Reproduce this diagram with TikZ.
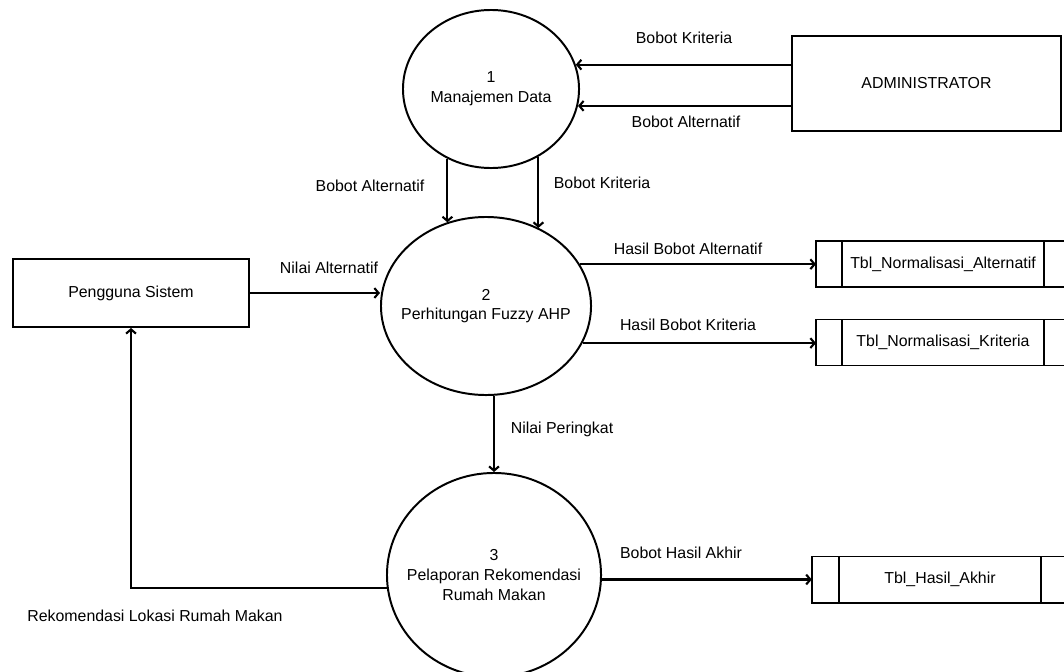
\documentclass[tikz,border=0pt]{standalone}
\usepackage{fontspec}
\setmainfont{Liberation Sans}
\usetikzlibrary{shapes.geometric}
\usetikzlibrary{positioning}
\usetikzlibrary{arrows}
\usetikzlibrary{arrows.meta}

\begin{document}
\begin{tikzpicture}[x=0.025cm, y=-0.025cm]
	\tikzset{
		every node/.style={font=\fontsize{11.3}{14}\selectfont},
		prosesnode/.style={ellipse, draw=black, line width=1.4pt, inner sep=0pt},
		entitasnode/.style={rectangle, draw=black, line width=1.4pt, text centered},
		tabelnode/.style={rectangle, draw=black, line width=1.4pt, outer sep=0pt, minimum width=5.05cm, minimum height=1.15cm, text centered},
		tabelsisi/.style={rectangle, draw=black, line width=1.4pt, outer sep=0pt, minimum height=1.15cm},
		aliran/.style={-{Straight Barb[length=3pt, width=7pt]}, line width=1.5pt},
	}
	\useasboundingbox (0,0) rectangle (1064,671);
	\clip (0,0) rectangle (1064,671);

	\node[prosesnode, minimum width=4.4cm, minimum height=3.95cm, label={[align=center]center:1\\Manajemen Data}] (p1) at (491,89) {};
	\node[prosesnode, minimum width=5.25cm, minimum height=4.45cm, label={[align=center]center:2\\Perhitungan Fuzzy AHP}] (p2) at (486,306) {};
	\node[prosesnode, minimum width=5.35cm, minimum height=5.1cm, label={[align=center]center:3\\Pelaporan Rekomendasi\\Rumah Makan}] (p3) at (494,575) {};

	\node[entitasnode, minimum width=6.725cm, minimum height=2.375cm] (admin) at (926.5,83.5) {ADMINISTRATOR};
	\node[entitasnode, minimum width=5.9cm, minimum height=1.7cm] (pengguna) at (131,293) {Pengguna Sistem};

	\node[tabelnode] (tblalt) at (943,264) {Tbl\_Normalisasi\_Alternatif};
	\node[tabelsisi, left=0pt of tblalt, minimum width=0.65cm] (tblaltkiri) {};
	\node[tabelsisi, right=0pt of tblalt, minimum width=1cm] (tblaltkanan) {};

	\node[tabelnode] (tblkrit) at (943,342.5) {Tbl\_Normalisasi\_Kriteria};
	\node[tabelsisi, left=0pt of tblkrit, minimum width=0.65cm] (tblkritkiri) {};
	\node[tabelsisi, right=0pt of tblkrit, minimum width=1cm] (tblkritkanan) {};

	\node[tabelnode] (tblakhir) at (940,579.5) {Tbl\_Hasil\_Akhir};
	\node[tabelsisi, left=0pt of tblakhir, minimum width=0.68cm] (tblakhirkiri) {};
	\node[tabelsisi, right=0pt of tblakhir, minimum width=1cm] (tblakhirkanan) {};

	\draw[aliran] (admin.west |- p1.16) -- (p1.16);
	\draw[aliran] (admin.west |- p1.349.5) -- (p1.349.5);
	\node (lblkrit1) at (684,38) {Bobot Kriteria};
	\node (lblalt1) at (686,122) {Bobot Alternatif};

	\draw[aliran] (p1.238) -- (p1.238 |- p2.115);
	\draw[aliran] (p1.305) -- (p1.305 |- p2.56);
	\node (lblalt2) at (370,186) {Bobot Alternatif};
	\node (lblkrit2) at (602,183) {Bobot Kriteria};

	\draw[aliran] (pengguna.east) -- (pengguna.east -| p2.west);
	\node (lblnilai) at (329,268) {Nilai Alternatif};

	\draw[aliran] (p2.24.5) -- (p2.24.5 -| tblaltkiri.west);
	\draw[aliran] (p2.339.5) -- (p2.339.5 -| tblkritkiri.west);
	\node (lblhasilalt) at (688,249) {Hasil Bobot Alternatif};
	\node (lblhasilkrit) at (688,325) {Hasil Bobot Kriteria};

	\draw[aliran] (p3.north |- p2.south) -- (p3.north);
	\node (lblperingkat) at (562,429) {Nilai Peringkat};

	\draw[aliran] (p3.east |- tblakhir) -- (tblakhirkiri.west);
	\node (lblakhir) at (681,553) {Bobot Hasil Akhir};

	\draw[aliran] (p3.187.5) -| (pengguna.south);
	\node (lblrekom) at (155,616) {Rekomendasi Lokasi Rumah Makan};
\end{tikzpicture}
\end{document}
